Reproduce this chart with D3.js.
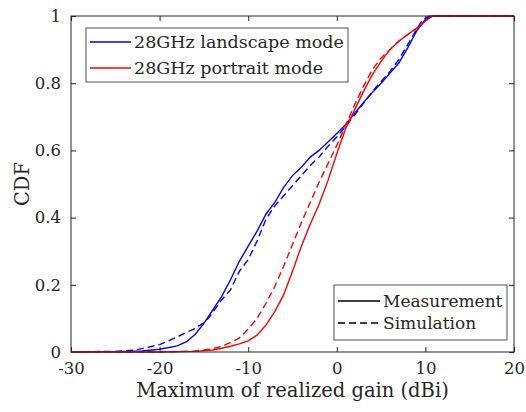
<!DOCTYPE html>
<html lang="en">
<head>
<meta charset="UTF-8">
<title>CDF of realized gain</title>
<script src="https://cdn.jsdelivr.net/npm/d3@7"></script>
<style>
  body { margin: 0; background: #fff; }
  svg text { font-family: "DejaVu Serif", serif; fill: #262626; }
</style>
</head>
<body>
<svg id="chart" width="526" height="412"></svg>
<script>
// landscape / portrait, measured vs simulated  [gain dBi, CDF]
const landscapeMeas = [[-30,0],[-25,0.001],[-22,0.003],[-20,0.008],[-18,0.018],[-17,0.03],[-16,0.052],[-15,0.085],[-14,0.125],[-13,0.165],[-12,0.215],[-11,0.27],[-10,0.315],[-9,0.36],[-8,0.41],[-7,0.445],[-6,0.49],[-5,0.525],[-4,0.55],[-3,0.58],[-2,0.60],[-1,0.625],[0,0.65],[1,0.677],[2,0.71],[3,0.742],[4,0.772],[5,0.80],[6,0.83],[7,0.86],[8,0.905],[9,0.955],[10,0.99],[10.8,1],[20,1]];
const landscapeSim = [[-30,0],[-25,0.002],[-23,0.005],[-22,0.01],[-20,0.022],[-19,0.033],[-18,0.045],[-17,0.058],[-16,0.07],[-15,0.087],[-14.5,0.1],[-13,0.155],[-12,0.185],[-11,0.24],[-10,0.275],[-9,0.33],[-8,0.395],[-7,0.435],[-6,0.465],[-5,0.495],[-4,0.525],[-3,0.555],[-2,0.58],[-1,0.612],[0,0.64],[1,0.672],[2,0.705],[3,0.74],[4,0.775],[5,0.805],[6,0.835],[7,0.87],[8,0.915],[9,0.96],[9.7,0.99],[10.5,1],[20,1]];
const portraitMeas = [[-30,0],[-20,0],[-16,0.002],[-14,0.006],[-13,0.011],[-12,0.017],[-11,0.024],[-10,0.033],[-9,0.05],[-8,0.08],[-7,0.12],[-6,0.17],[-5,0.24],[-4,0.315],[-3,0.38],[-2,0.44],[-1,0.51],[0,0.59],[1,0.665],[2,0.72],[3,0.775],[4,0.825],[5,0.865],[6,0.9],[7,0.925],[8,0.945],[9,0.963],[10,0.985],[10.8,1],[20,1]];
const portraitSim = [[-30,0],[-20,0],[-16,0.003],[-15,0.006],[-14,0.01],[-13,0.017],[-12,0.028],[-11,0.042],[-10,0.068],[-9,0.1],[-8,0.145],[-7,0.195],[-6,0.255],[-5,0.32],[-4,0.385],[-3,0.445],[-2,0.505],[-1,0.56],[0,0.615],[1,0.675],[2,0.735],[3,0.79],[4,0.84],[5,0.875],[6,0.9],[7,0.925],[8,0.945],[9,0.963],[10,0.985],[10.8,1],[20,1]];

const xTicks = [-30, -20, -10, 0, 10, 20];
const yTicks = [0, 0.2, 0.4, 0.6, 0.8, 1];
const colorLegend = [["28GHz landscape mode", "#0000ff"], ["28GHz portrait mode", "#ff0000"]];
const styleLegend = [["Measurement", null], ["Simulation", "7,4"]];

const series = [
  { data: landscapeMeas, color: "#0000ff", dash: null },
  { data: landscapeSim, color: "#0000ff", dash: "7,4" },
  { data: portraitMeas, color: "#ff0000", dash: null },
  { data: portraitSim, color: "#ff0000", dash: "7,4" }
];

const margin = { left: 71, right: 12, top: 16, bottom: 60 };
const W = 526, H = 412;
const svg = d3.select("#chart");

const x = d3.scaleLinear().domain([-30, 20]).range([margin.left, W - margin.right]);
const y = d3.scaleLinear().domain([0, 1]).range([H - margin.bottom, margin.top]);

const fmt = d => String(d);
const FONT = "'DejaVu Serif', serif";

// axes (ticks inside, MATLAB style)
svg.append("g").attr("transform", `translate(0,${y(0)})`)
  .call(d3.axisBottom(x).tickValues(xTicks).tickSize(-5).tickPadding(10).tickFormat(fmt));
svg.append("g").attr("transform", `translate(${x(-30)},0)`)
  .call(d3.axisLeft(y).tickValues(yTicks).tickSize(-5).tickPadding(10).tickFormat(fmt));
svg.append("g").attr("transform", `translate(0,${y(1)})`)
  .call(d3.axisTop(x).tickValues(xTicks).tickSize(-5).tickFormat(""));
svg.append("g").attr("transform", `translate(${x(20)},0)`)
  .call(d3.axisRight(y).tickValues(yTicks).tickSize(-5).tickFormat(""));

svg.selectAll("g").attr("font-family", FONT);
svg.selectAll(".domain").remove();
svg.selectAll(".tick line").attr("stroke", "#262626");
svg.selectAll(".tick text").attr("font-size", 16.5).attr("fill", "#262626");

// lines
const line = d3.line().x(d => x(d[0])).y(d => y(d[1]));
svg.append("g").selectAll("path").data(series).join("path")
  .attr("d", d => line(d.data))
  .attr("fill", "none")
  .attr("stroke", d => d.color)
  .attr("stroke-width", 1.4)
  .attr("stroke-dasharray", d => d.dash);

// axes box
svg.append("rect")
  .attr("x", x(-30)).attr("y", y(1))
  .attr("width", x(20) - x(-30)).attr("height", y(0) - y(1))
  .attr("fill", "none").attr("stroke", "#262626").attr("stroke-width", 1);

// labels
svg.append("text").attr("x", (x(-30) + x(20)) / 2).attr("y", 397)
  .attr("text-anchor", "middle").attr("font-size", 19.5).attr("font-family", FONT)
  .text("Maximum of realized gain (dBi)");
svg.append("text").attr("transform", `translate(29,${(y(0) + y(1)) / 2}) rotate(-90)`)
  .attr("text-anchor", "middle").attr("font-size", 19.5).attr("font-family", FONT).text("CDF");

// legend 1 (colour)
const lg1 = svg.append("g").attr("font-family", FONT);
lg1.append("rect").attr("x", 86).attr("y", 28).attr("width", 262).attr("height", 54)
  .attr("fill", "#fff").attr("stroke", "#262626").attr("stroke-width", 0.8);
colorLegend.forEach(([label, c], i) => {
  const cy = 42 + i * 26;
  lg1.append("line").attr("x1", 90).attr("x2", 131).attr("y1", cy).attr("y2", cy)
    .attr("stroke", c).attr("stroke-width", 1.4);
  lg1.append("text").attr("x", 134).attr("y", cy).attr("dy", "0.35em")
    .attr("font-size", 17.5).text(label);
});

// legend 2 (line style)
const lg2 = svg.append("g").attr("font-family", FONT);
lg2.append("rect").attr("x", 334).attr("y", 285).attr("width", 173).attr("height", 55)
  .attr("fill", "#fff").attr("stroke", "#262626").attr("stroke-width", 0.8);
styleLegend.forEach(([label, dash], i) => {
  const cy = 301 + i * 22;
  lg2.append("line").attr("x1", 338).attr("x2", 380).attr("y1", cy).attr("y2", cy)
    .attr("stroke", "#000").attr("stroke-width", 1.4).attr("stroke-dasharray", dash);
  lg2.append("text").attr("x", 383).attr("y", cy).attr("dy", "0.35em")
    .attr("font-size", 17).text(label);
});
</script>
</body>
</html>
